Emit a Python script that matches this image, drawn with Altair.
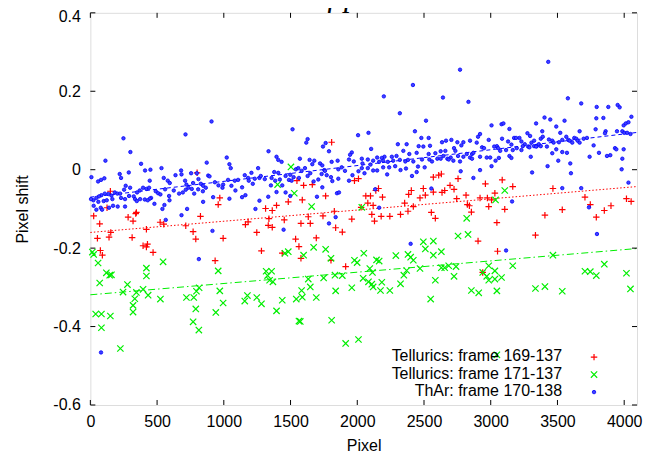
import altair as alt
import pandas as pd

TITLE = "Low-mass M dwarf planets with HUPS"
X_TITLE = "Pixel"
Y_TITLE = "Pixel shift"
SERIES = ["Tellurics: frame 169-137", "Tellurics: frame 171-137", "ThAr: frame 170-138"]
XTICKS = [0, 500, 1000, 1500, 2000, 2500, 3000, 3500, 4000]
YTICKS = [-0.6, -0.4, -0.2, 0, 0.2, 0.4]
X_DOMAIN = [0, 4096]
Y_DOMAIN = [-0.6, 0.4]

# linear fits (end points)
FIT_X = [0, 4096]
FIT_RED = [-0.160, -0.043]
FIT_GREEN = [-0.319, -0.201]
FIT_BLUE = [-0.070, 0.095]

RED_POINTS = [
    (800, -0.008), (150, -0.055), (970, -0.072), (958, -0.089), (25, -0.118), (125, -0.097),
    (345, -0.109), (340, -0.112), (283, -0.121), (320, -0.131), (523, -0.134), (550, -0.139),
    (825, -0.119), (70, -0.138), (715, -0.143), (420, -0.152), (153, -0.160), (770, -0.158),
    (53, -0.175), (140, -0.172), (313, -0.173), (790, -0.177), (995, -0.175), (395, -0.194),
    (428, -0.190), (420, -0.197), (75, -0.206), (90, -0.218), (470, -0.211), (935, -0.232),
    (1808, 0.070), (1548, -0.028), (1598, -0.040), (1663, -0.038), (2009, -0.023), (1979, -0.028),
    (1763, -0.067), (1588, -0.077), (1483, -0.082), (1395, -0.091), (1313, -0.099), (1363, -0.104),
    (2029, -0.096), (1828, -0.106), (1633, -0.120), (1743, -0.118), (1453, -0.128), (1338, -0.125),
    (1182, -0.133), (1162, -0.140), (1333, -0.142), (1363, -0.147), (1578, -0.137), (1648, -0.137),
    (1959, -0.126), (1838, -0.148), (1888, -0.159), (1247, -0.160), (1538, -0.177), (1693, -0.174),
    (1563, -0.196), (1282, -0.207), (1438, -0.213), (1578, -0.226), (1803, -0.231), (1913, -0.247),
    (2630, -0.011), (2610, -0.014), (2570, -0.019), (2755, -0.023), (3086, -0.026), (2960, -0.036),
    (2695, -0.040), (2725, -0.050), (2655, -0.053), (2635, -0.058), (2570, -0.057), (2495, -0.048),
    (2510, -0.065), (2470, -0.072), (2405, -0.053), (2385, -0.063), (2159, -0.048), (2139, -0.053),
    (2189, -0.070), (2064, -0.067), (2099, -0.067), (2079, -0.085), (2119, -0.091), (2355, -0.085),
    (2420, -0.094), (2380, -0.106), (2324, -0.114), (2244, -0.119), (2179, -0.119), (2109, -0.114),
    (2129, -0.131), (2555, -0.109), (2585, -0.124), (2745, -0.074), (2815, -0.065), (2825, -0.089),
    (2840, -0.092), (2855, -0.108), (2920, -0.072), (2975, -0.072), (2985, -0.094), (3006, -0.077),
    (3031, -0.060), (3046, -0.135), (2905, -0.182), (3051, -0.208), (2940, -0.262),
    (3165, -0.043), (3466, -0.048), (3706, -0.070), (3746, -0.089), (3901, -0.092), (3851, -0.104),
    (4017, -0.074), (4052, -0.081), (3105, -0.101), (3536, -0.102), (3406, -0.116), (3791, -0.121),
    (3335, -0.167),
]

GREEN_POINTS = [
    (15, -0.210), (25, -0.216), (58, -0.238), (545, -0.235), (420, -0.251), (958, -0.258),
    (120, -0.263), (145, -0.269), (158, -0.268), (420, -0.271), (70, -0.289), (278, -0.293),
    (815, -0.301), (795, -0.310), (970, -0.309), (245, -0.312), (345, -0.313), (395, -0.305),
    (433, -0.320), (333, -0.329), (525, -0.330), (720, -0.326), (775, -0.326), (995, -0.340),
    (320, -0.346), (790, -0.355), (40, -0.368), (83, -0.368), (150, -0.373), (320, -0.363),
    (940, -0.364), (770, -0.388), (83, -0.403), (813, -0.409), (225, -0.456),
    (1503, 0.007), (1403, -0.038), (1528, -0.060), (1658, -0.094), (2034, -0.096), (1673, -0.198),
    (1763, -0.203), (1458, -0.213), (1483, -0.209), (1598, -0.218), (1803, -0.226), (1979, -0.231),
    (1999, -0.237), (2049, -0.213), (1317, -0.259), (1358, -0.259), (1328, -0.270), (1343, -0.282),
    (1368, -0.286), (1633, -0.279), (1748, -0.276), (1833, -0.269), (1888, -0.270), (2044, -0.277),
    (1583, -0.308), (1648, -0.299), (1838, -0.309), (1959, -0.301), (1177, -0.321), (1157, -0.335),
    (1247, -0.326), (1282, -0.342), (1438, -0.333), (1543, -0.330), (1588, -0.325), (1693, -0.326),
    (1395, -0.360), (1563, -0.386), (1573, -0.387), (1808, -0.384), (1913, -0.443), (2009, -0.433),
    (3036, -0.077), (2820, -0.124), (2755, -0.169), (2830, -0.165), (2495, -0.184), (2570, -0.182),
    (2510, -0.202), (2144, -0.230), (2164, -0.233), (2289, -0.219), (2380, -0.216), (2400, -0.223),
    (2420, -0.231), (2570, -0.218), (2630, -0.209), (2094, -0.252), (2114, -0.262), (2370, -0.257),
    (2349, -0.269), (2470, -0.252), (2630, -0.250), (2655, -0.250), (2685, -0.245), (2740, -0.247),
    (2725, -0.272), (2985, -0.245), (3031, -0.258), (2940, -0.262), (2970, -0.272), (2985, -0.282),
    (3031, -0.279), (3081, -0.275), (2084, -0.286), (2109, -0.292), (2119, -0.299), (2184, -0.287),
    (2174, -0.308), (2244, -0.308), (2324, -0.291), (2585, -0.282), (2855, -0.308), (2910, -0.314),
    (3046, -0.309), (2550, -0.330), (3046, -0.472),
    (3105, -0.053), (3466, -0.218), (3165, -0.245), (3851, -0.241), (3706, -0.259), (3746, -0.260),
    (3791, -0.270), (4017, -0.264), (3335, -0.303), (3406, -0.298), (3536, -0.310), (4047, -0.304),
]

BLUE_POINTS = [
    (908, 0.123), (713, 0.090), (248, 0.080), (300, 0.045), (113, 0.023), (380, 0.015),
    (410, -0.002), (450, 0.000), (288, -0.007), (872, 0.018), (533, 0.004), (220, -0.011),
    (230, -0.021), (8, -0.019), (58, -0.030), (80, -0.026), (105, -0.022), (638, -0.014),
    (680, -0.002), (683, -0.012), (755, -0.009), (798, -0.009), (883, -0.015), (893, -0.017),
    (995, -0.038), (933, -0.032), (445, -0.028), (550, -0.021), (580, -0.028), (595, -0.034),
    (710, -0.028), (720, -0.038), (770, -0.034), (810, -0.024), (828, -0.036), (845, -0.041),
    (395, -0.046), (420, -0.049), (440, -0.046), (370, -0.053), (350, -0.058), (298, -0.046),
    (265, -0.041), (253, -0.051), (183, -0.058), (203, -0.061), (223, -0.061), (158, -0.066),
    (135, -0.062), (108, -0.061), (83, -0.065), (65, -0.068), (45, -0.072), (23, -0.078),
    (5, -0.075), (60, -0.082), (100, -0.080), (123, -0.078), (165, -0.075), (230, -0.072),
    (260, -0.075), (290, -0.067), (325, -0.068), (335, -0.075), (373, -0.075), (408, -0.076),
    (455, -0.072), (490, -0.055), (508, -0.060), (525, -0.063), (560, -0.050), (590, -0.067),
    (625, -0.053), (665, -0.061), (693, -0.058), (715, -0.051), (735, -0.046), (760, -0.049),
    (778, -0.061), (808, -0.050), (843, -0.055), (865, -0.046), (920, -0.070), (960, -0.040),
    (990, -0.046), (445, -0.074), (480, -0.087), (555, -0.090), (540, -0.100), (430, -0.078),
    (25, -0.092), (45, -0.102), (78, -0.097), (88, -0.102), (140, -0.097), (170, -0.092),
    (205, -0.094), (260, -0.094), (348, -0.080), (593, -0.078), (725, -0.100), (845, -0.082),
    (683, -0.116), (565, -0.128), (915, -0.156), (813, -0.228), (80, -0.466),
    (1515, 0.103), (2006, 0.088), (1628, 0.078), (1618, 0.069), (1763, 0.068), (1743, 0.059),
    (1788, 0.047), (1335, 0.047), (1959, 0.044), (1946, 0.038), (1022, 0.031), (1395, 0.033),
    (1408, 0.025), (1433, 0.020), (1570, 0.028), (1643, 0.025), (1678, 0.023), (1721, 0.016),
    (1738, 0.011), (1753, -0.001), (1663, 0.014), (1608, 0.004), (1583, -0.003), (1808, 0.020),
    (1853, 0.023), (1938, 0.026), (1974, 0.021), (2034, 0.028), (2039, 0.016), (1042, 0.014),
    (1052, 0.004), (1207, -0.008), (1257, 0.004), (1157, -0.014), (1182, -0.021), (1107, -0.026),
    (1082, -0.028), (1032, -0.026), (1057, -0.041), (1087, -0.053), (1137, -0.045), (1187, -0.028),
    (1217, -0.036), (1232, -0.023), (1267, -0.021), (1277, -0.016), (1307, -0.024), (1358, -0.021),
    (1378, -0.006), (1408, -0.008), (1463, -0.016), (1498, -0.013), (1523, -0.019), (1540, 0.001),
    (1558, 0.004), (1385, -0.028), (1353, -0.040), (1420, -0.025), (1438, -0.040), (1488, -0.026),
    (1508, -0.028), (1563, -0.021), (1628, -0.016), (1648, -0.009), (1673, -0.030), (1708, -0.025),
    (1733, -0.011), (1758, -0.003), (1771, -0.014), (1803, -0.019), (1813, -0.029), (1858, 0.001),
    (1883, 0.006), (1908, -0.003), (1858, -0.023), (1964, -0.014), (1938, -0.028), (2009, -0.004),
    (2034, 0.004), (2054, -0.009), (1738, -0.045), (1395, -0.057), (1333, -0.069), (1267, -0.079),
    (1237, -0.100), (1162, -0.065), (1137, -0.070), (1042, -0.074), (1463, -0.058), (1498, -0.067),
    (1698, -0.069), (1848, -0.060), (1863, -0.058), (1448, -0.153), (1838, -0.121), (1788, -0.137),
    (2770, 0.255), (2417, 0.216), (2199, 0.187), (2642, 0.184), (2833, 0.173), (2319, 0.144),
    (2515, 0.125), (3006, 0.113), (3081, 0.116), (2084, 0.094), (2432, 0.098), (2920, 0.091),
    (2905, 0.084), (2535, 0.081), (2480, 0.081), (2304, 0.065), (2370, 0.065), (2635, 0.070),
    (2665, 0.074), (2705, 0.076), (2750, 0.070), (2795, 0.070), (2845, 0.074), (2895, 0.069),
    (2985, 0.076), (3046, 0.060), (2104, 0.053), (2460, 0.060), (2495, 0.059), (2545, 0.061),
    (2585, 0.042), (2535, 0.040), (2625, 0.047), (2660, 0.048), (2725, 0.055), (2735, 0.048),
    (2780, 0.062), (2820, 0.040), (2860, 0.040), (2870, 0.043), (2935, 0.057), (2950, 0.055),
    (3026, 0.059), (3056, 0.055), (3071, 0.048), (2445, 0.043), (2345, 0.048), (2390, 0.040),
    (2294, 0.035), (2259, 0.033), (2204, 0.033), (2184, 0.030), (2149, 0.031), (2119, 0.023),
    (2079, 0.026), (2099, 0.013), (2164, 0.020), (2194, 0.023), (2229, 0.020), (2269, 0.023),
    (2319, 0.025), (2360, 0.021), (2380, 0.025), (2420, 0.021), (2485, 0.026), (2540, 0.026),
    (2600, 0.028), (2645, 0.035), (2675, 0.028), (2700, 0.031), (2755, 0.035), (2795, 0.033),
    (2845, 0.031), (2920, 0.033), (2970, 0.031), (2996, 0.031), (3036, 0.023), (3061, 0.030),
    (2079, 0.004), (2119, -0.002), (2149, -0.002), (2194, 0.006), (2239, 0.006), (2284, 0.009),
    (2324, -0.001), (2365, 0.003), (2455, 0.008), (2505, 0.006), (2560, 0.021), (2625, 0.028),
    (2685, 0.026), (2720, 0.023), (2770, 0.021), (2860, 0.028), (3006, 0.009), (2920, -0.001),
    (2224, -0.012), (2410, -0.016), (2445, -0.006), (2775, -0.004), (2870, -0.021), (2134, -0.050),
    (2555, -0.048), (2164, -0.097), (2400, -0.189),
    (3431, 0.275), (3578, 0.182), (3678, 0.169), (3794, 0.160), (3881, 0.160), (3951, 0.165),
    (3966, 0.159), (4054, 0.135), (3791, 0.131), (3844, 0.132), (3403, 0.133), (3446, 0.128),
    (3553, 0.125), (3340, 0.118), (3491, 0.110), (3095, 0.118), (3140, 0.104), (3386, 0.098),
    (3521, 0.094), (3666, 0.098), (3786, 0.103), (3861, 0.098), (3856, 0.093), (3946, 0.098),
    (3986, 0.098), (4001, 0.094), (4022, 0.094), (4047, 0.091), (3996, 0.113), (4012, 0.118),
    (4032, 0.121), (3275, 0.093), (3295, 0.086), (3085, 0.079), (3175, 0.081), (3190, 0.081),
    (3130, 0.072), (3155, 0.064), (3215, 0.081), (3230, 0.072), (3255, 0.065), (3280, 0.059),
    (3305, 0.069), (3325, 0.074), (3325, 0.060), (3345, 0.060), (3360, 0.065), (3375, 0.079),
    (3390, 0.084), (3436, 0.077), (3461, 0.074), (3471, 0.069), (3511, 0.070), (3536, 0.076),
    (3566, 0.084), (3581, 0.076), (3591, 0.074), (3611, 0.069), (3626, 0.081), (3641, 0.079),
    (3651, 0.074), (3666, 0.069), (3696, 0.079), (3721, 0.081), (3771, 0.062), (3115, 0.050),
    (3165, 0.050), (3195, 0.055), (3230, 0.050), (3240, 0.060), (3290, 0.057), (3340, 0.059),
    (3375, 0.060), (3421, 0.059), (3491, 0.052), (3536, 0.045), (3571, 0.043), (3461, 0.042),
    (3506, 0.023), (3140, 0.035), (3155, 0.030), (3300, 0.033), (3741, 0.033), (3811, 0.043),
    (3871, 0.035), (3896, 0.037), (3931, 0.055), (3941, 0.052), (3996, 0.052), (3986, 0.028),
    (3426, 0.009), (3596, 0.016), (3310, -0.007), (3601, -0.009), (3981, 0.001), (4032, -0.033),
    (3536, -0.047), (3678, -0.047), (3160, -0.081), (3736, -0.096), (3796, -0.164), (3115, -0.206),
]

W, H = 547, 392.4
FONT = "Liberation Sans"
RED, GREEN, BLUE = "#ff0000", "#00ee00", "#0000ff"
PLUS = "M-1,0L1,0M0,-1L0,1"
CROSS = "M-1,-1L1,1M-1,1L1,-1"

xs = alt.Scale(domain=X_DOMAIN, nice=False, zero=False)
ys = alt.Scale(domain=Y_DOMAIN, nice=False, zero=False)

xaxis = alt.Axis(
    values=XTICKS, format="d", ticks=False, tickSize=0, domain=False, grid=False,
    labelFont=FONT, labelFontSize=16, labelColor="black", labelPadding=9,
    labelFlush=False, labelOverlap=False,
    title=X_TITLE, titleFont=FONT, titleFontSize=16, titleFontWeight="normal",
    titleColor="black", titleX=W / 2, titleY=46, titleBaseline="alphabetic", titleAlign="center",
)
yaxis = alt.Axis(
    values=YTICKS, ticks=False, tickSize=0, domain=False, grid=False,
    labelFont=FONT, labelFontSize=16, labelColor="black", labelPadding=10,
    labelFlush=False, labelOverlap=False,
    labelOffset={"condition": {"test": "datum.value > 0.3", "value": 3.5}, "value": 0},
    labelExpr="datum.value == 0 ? '0' : (datum.value < 0 ? '-' : '') + format(abs(datum.value), '.1f')",
    title=Y_TITLE, titleFont=FONT, titleFontSize=16, titleFontWeight="normal",
    titleColor="black", titleAngle=270, titleX=-63, titleY=H / 2,
    titleBaseline="alphabetic", titleAlign="center",
)

X = alt.X("x:Q", scale=xs, axis=xaxis)
Y = alt.Y("y:Q", scale=ys, axis=yaxis)


def pts(points):
    return pd.DataFrame({"x": [p[0] for p in points], "y": [p[1] for p in points]})


def fit_df(vals):
    return pd.DataFrame({"x": FIT_X, "y": vals})


layers = []
# fit lines
layers.append(alt.Chart(fit_df(FIT_BLUE)).mark_line(color=BLUE, strokeWidth=1, strokeDash=[4, 3]).encode(x=X, y=Y))
layers.append(alt.Chart(fit_df(FIT_RED)).mark_line(color=RED, strokeWidth=1, strokeDash=[1.5, 2]).encode(x=X, y=Y))
layers.append(alt.Chart(fit_df(FIT_GREEN)).mark_line(color=GREEN, strokeWidth=1, strokeDash=[7, 3, 1.5, 3]).encode(x=X, y=Y))

# points
layers.append(alt.Chart(pts(RED_POINTS)).mark_point(shape=PLUS, size=42, filled=False, strokeWidth=1.2,
                                                     color=RED, opacity=1).encode(x=X, y=Y))
layers.append(alt.Chart(pts(GREEN_POINTS)).mark_point(shape=CROSS, size=40, filled=False, strokeWidth=1.2,
                                                       color=GREEN, opacity=1).encode(x=X, y=Y))
layers.append(alt.Chart(pts(BLUE_POINTS)).mark_point(shape="circle", size=12, filled=True, fill="#4040ff",
                                                      stroke=BLUE, strokeWidth=0.8, opacity=1).encode(x=X, y=Y))

# inside ticks on all four sides
xt = pd.DataFrame({"x": XTICKS})
yt = pd.DataFrame({"y": YTICKS})
layers.append(alt.Chart(xt).mark_rule(color="black", strokeWidth=1).encode(x=X, y=alt.value(H), y2=alt.value(H - 5)))
layers.append(alt.Chart(xt).mark_rule(color="black", strokeWidth=1).encode(x=X, y=alt.value(0), y2=alt.value(5)))
layers.append(alt.Chart(yt).mark_rule(color="black", strokeWidth=1).encode(y=Y, x=alt.value(0), x2=alt.value(5)))
layers.append(alt.Chart(yt).mark_rule(color="black", strokeWidth=1).encode(y=Y, x=alt.value(W), x2=alt.value(W - 5)))

# legend (inside, bottom right; labels left of symbols)
LEG_TEXT_X = 472
LEG_SYM_X = 504
LEG_ROWS = [348.5, 366, 383.5]
for i, name in enumerate(SERIES):
    layers.append(
        alt.Chart(pd.DataFrame({"label": [name]}))
        .mark_text(font=FONT, fontSize=16, align="right", baseline="alphabetic", color="black")
        .encode(text="label:N", x=alt.value(LEG_TEXT_X), y=alt.value(LEG_ROWS[i]))
    )
leg_sym = pd.DataFrame({"label": SERIES})
layers.append(alt.Chart(leg_sym.iloc[[0]]).mark_point(shape=PLUS, size=42, filled=False, strokeWidth=1.2,
                                                       color=RED, opacity=1)
              .encode(x=alt.value(LEG_SYM_X), y=alt.value(LEG_ROWS[0] - 4)))
layers.append(alt.Chart(leg_sym.iloc[[1]]).mark_point(shape=CROSS, size=40, filled=False, strokeWidth=1.2,
                                                       color=GREEN, opacity=1)
              .encode(x=alt.value(LEG_SYM_X), y=alt.value(LEG_ROWS[1] - 4)))
layers.append(alt.Chart(leg_sym.iloc[[2]]).mark_point(shape="circle", size=12, filled=True, fill="#4040ff",
                                                       stroke=BLUE, strokeWidth=0.8, opacity=1)
              .encode(x=alt.value(LEG_SYM_X), y=alt.value(LEG_ROWS[2] - 4)))

# page title (cut off at the top edge, as in the reference)
layers.append(
    alt.Chart(pd.DataFrame({"t": [TITLE]}))
    .mark_text(font="Liberation Serif", fontStyle="italic", fontSize=31, align="left",
               baseline="alphabetic", color="black")
    .encode(text="t:N", x=alt.value(6.6), y=alt.value(-7.2))
)

chart = (
    alt.layer(*layers)
    .properties(width=W, height=H, autosize=alt.AutoSizeParams(type="none"),
                padding={"left": 82.4, "top": 4.7, "right": 8, "bottom": 48})
    .configure_view(stroke="black", strokeWidth=1)
    .configure(background="white")
)

chart.save("out.html", embed_options={"renderer": "svg", "actions": False})
